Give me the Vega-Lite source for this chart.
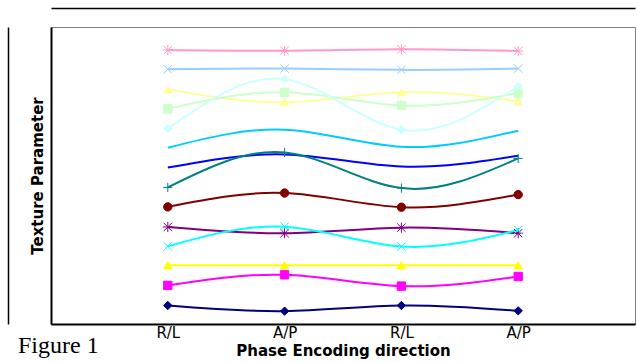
{
  "$schema": "https://vega.github.io/schema/vega-lite/v6.json",
  "width": 584,
  "height": 297,
  "autosize": {"type": "none"},
  "padding": {"left": 51, "top": 27, "right": 2, "bottom": 38},
  "background": "white",
  "title": {"text": "Figure 1", "orient": "bottom", "anchor": "start", "frame": "group", "font": "Liberation Serif", "fontSize": 24, "fontWeight": "normal", "color": "black", "dx": -33, "offset": -24},
  "config": {"view": {"stroke": "#808080", "strokeWidth": 1}},
  "data": {"values": [
    {"s": "s01", "x": 1, "y": 276.7}, {"s": "s01", "x": 2, "y": 276}, {"s": "s01", "x": 3, "y": 277.5}, {"s": "s01", "x": 4, "y": 275.7},
    {"s": "s02", "x": 1, "y": 257.3}, {"s": "s02", "x": 2, "y": 258}, {"s": "s02", "x": 3, "y": 256.7}, {"s": "s02", "x": 4, "y": 258},
    {"s": "s03", "x": 1, "y": 237}, {"s": "s03", "x": 2, "y": 224}, {"s": "s03", "x": 3, "y": 234}, {"s": "s03", "x": 4, "y": 225},
    {"s": "s04", "x": 1, "y": 217.3}, {"s": "s04", "x": 2, "y": 234}, {"s": "s04", "x": 3, "y": 220.7}, {"s": "s04", "x": 4, "y": 233.3},
    {"s": "s05", "x": 1, "y": 197.3}, {"s": "s05", "x": 2, "y": 247.3}, {"s": "s05", "x": 3, "y": 196.3}, {"s": "s05", "x": 4, "y": 240},
    {"s": "s06", "x": 1, "y": 178}, {"s": "s06", "x": 2, "y": 196.3}, {"s": "s06", "x": 3, "y": 179}, {"s": "s06", "x": 4, "y": 195.3},
    {"s": "s07", "x": 1, "y": 158}, {"s": "s07", "x": 2, "y": 171.3}, {"s": "s07", "x": 3, "y": 159}, {"s": "s07", "x": 4, "y": 170},
    {"s": "s08", "x": 1, "y": 138}, {"s": "s08", "x": 2, "y": 173.3}, {"s": "s08", "x": 3, "y": 137.3}, {"s": "s08", "x": 4, "y": 167.3},
    {"s": "s09", "x": 1, "y": 118.3}, {"s": "s09", "x": 2, "y": 132.3}, {"s": "s09", "x": 3, "y": 118}, {"s": "s09", "x": 4, "y": 130.7},
    {"s": "s10", "x": 1, "y": 98}, {"s": "s10", "x": 2, "y": 91.7}, {"s": "s10", "x": 3, "y": 97.3}, {"s": "s10", "x": 4, "y": 91.7},
    {"s": "s11", "x": 1, "y": 78.5}, {"s": "s11", "x": 2, "y": 98.3}, {"s": "s11", "x": 3, "y": 78.3}, {"s": "s11", "x": 4, "y": 95},
    {"s": "s12", "x": 1, "y": 59.3}, {"s": "s12", "x": 2, "y": 59.3}, {"s": "s12", "x": 3, "y": 59.3}, {"s": "s12", "x": 4, "y": 59.3},
    {"s": "s13", "x": 1, "y": 39}, {"s": "s13", "x": 2, "y": 49.7}, {"s": "s13", "x": 3, "y": 38.3}, {"s": "s13", "x": 4, "y": 48},
    {"s": "s14", "x": 1, "y": 18.7}, {"s": "s14", "x": 2, "y": 13}, {"s": "s14", "x": 3, "y": 18.7}, {"s": "s14", "x": 4, "y": 13.3}
  ]},
  "layer": [
    {
      "layer": [
        {
          "mark": {"type": "line", "interpolate": "natural", "strokeWidth": 2},
          "encoding": {
            "x": {"field": "x", "type": "quantitative", "scale": {"domain": [0, 5]},
              "axis": {"values": [1, 2, 3, 4], "labelExpr": "['','R/L','A/P','R/L','A/P'][datum.value]", "ticks": false, "grid": false, "domain": true, "domainColor": "black", "domainWidth": 2, "labelFont": "DejaVu Sans", "labelFontSize": 15, "labelColor": "black", "labelPadding": 1, "labelFlush": false, "labelOverlap": false, "title": "Phase Encoding direction", "titleFont": "DejaVu Sans", "titleFontSize": 15, "titleFontWeight": "bold", "titleColor": "black", "titlePadding": 3}},
            "y": {"field": "y", "type": "quantitative", "scale": {"domain": [0, 297]},
              "axis": {"labels": false, "ticks": false, "grid": false, "domain": true, "domainColor": "black", "domainWidth": 2, "title": "Texture Parameter", "titleFont": "DejaVu Sans", "titleFontSize": 15, "titleFontWeight": "bold", "titleColor": "black", "titlePadding": 6}},
            "color": {"field": "s", "type": "nominal", "legend": null,
              "scale": {"domain": ["s01","s02","s03","s04","s05","s06","s07","s08","s09","s10","s11","s12","s13","s14"],
                "range": ["#ff99cc","#99ccff","#ffff99","#ccffcc","#ccffff","#00ccff","#0000ff","#008080","#800000","#800080","#00ffff","#ffff00","#ff00ff","#000080"]}}
          }
        },
        {
          "transform": [{"filter": {"not": {"field": "s", "oneOf": ["s06", "s07"]}}}],
          "mark": {"type": "point", "filled": true, "size": 70, "strokeWidth": 1, "opacity": 1},
          "encoding": {
            "x": {"field": "x", "type": "quantitative"},
            "y": {"field": "y", "type": "quantitative"},
            "color": {"field": "s", "type": "nominal", "legend": null},
            "stroke": {"field": "s", "type": "nominal", "legend": null,
              "scale": {"domain": ["s01","s02","s03","s04","s05","s06","s07","s08","s09","s10","s11","s12","s13","s14"],
                "range": ["#ff99cc","#99ccff","#ffff99","#ccffcc","#ccffff","#00ccff","#0000ff","#008080","#800000","#800080","#00ffff","#ffff00","#ff00ff","#000080"]}},
            "shape": {"field": "s", "type": "nominal", "legend": null,
              "scale": {"domain": ["s01","s02","s03","s04","s05","s08","s09","s10","s11","s12","s13","s14"],
                "range": ["M-1,-1L1,1M-1,1L1,-1M0,-1.2L0,1.2M-1.2,0L1.2,0", "M-1,-1L1,1M-1,1L1,-1", "triangle-up", "square", "diamond", "M-1.1,0L1.1,0M0,-1.1L0,1.1", "circle", "M-1,-1L1,1M-1,1L1,-1M0,-1.2L0,1.2M-1.2,0L1.2,0", "M-1,-1L1,1M-1,1L1,-1", "triangle-up", "square", "diamond"]}}
          }
        }
      ]
    },
    {
      "mark": {"type": "line", "opacity": 0},
      "encoding": {
        "x": {"field": "x", "type": "quantitative", "scale": {"domain": [0, 5]},
          "axis": {"orient": "top", "offset": 19, "labels": false, "ticks": false, "grid": false, "title": null, "domain": true, "domainColor": "black", "domainWidth": 1.5}},
        "y": {"field": "y", "type": "quantitative", "scale": {"domain": [0, 297]},
          "axis": {"orient": "left", "offset": 43, "labels": false, "ticks": false, "grid": false, "title": null, "domain": true, "domainColor": "black", "domainWidth": 1.5}}
      }
    }
  ],
  "resolve": {"scale": {"x": "independent", "y": "independent"}}
}
